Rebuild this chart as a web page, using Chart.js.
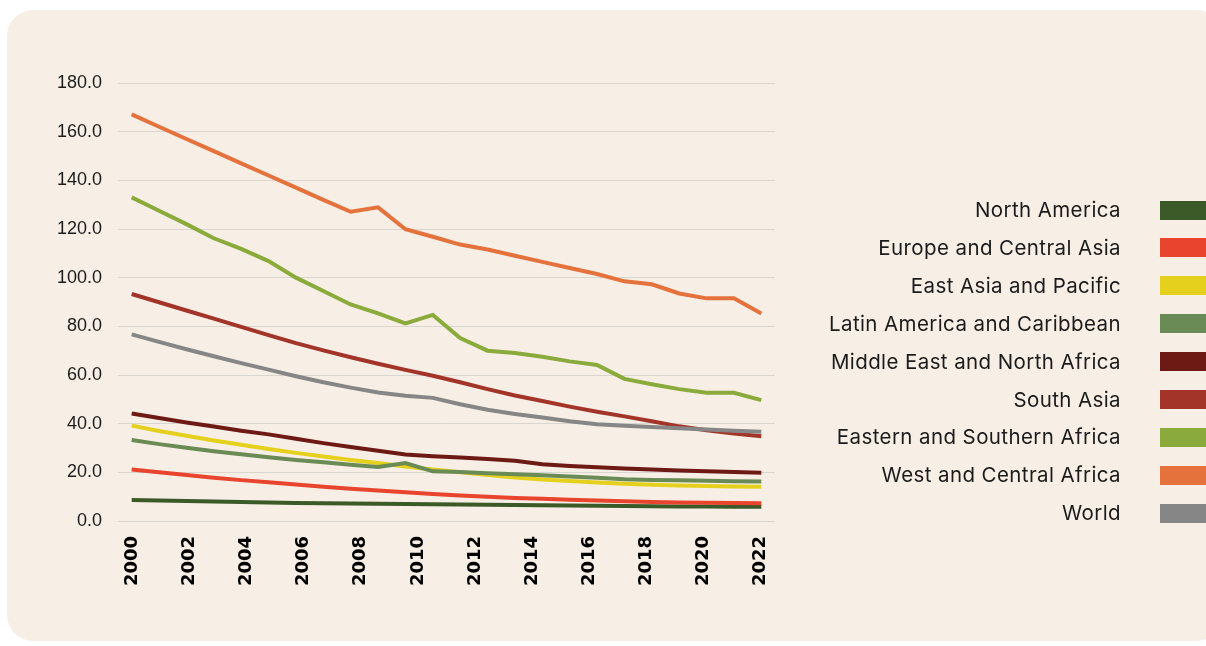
<!DOCTYPE html>
<html>
<head>
<meta charset="utf-8">
<script src="https://cdn.jsdelivr.net/npm/chart.js@4"></script>
<style>
  html, body { margin: 0; padding: 0; background: #ffffff; }
  body { width: 1206px; height: 646px; position: relative; overflow: hidden; }
  #panel {
    position: absolute; left: 7px; top: 10px; width: 1215px; height: 631px;
    background: #f7efe5; border-radius: 26px;
  }
  #chart-wrap { position: absolute; left: 0; top: 0; width: 800px; height: 646px; }
  #legend { position: absolute; left: 0; top: 0; width: 1206px; height: 646px; }
  .legend-row {
    position: absolute; right: 85px; height: 26px; line-height: 26px;
    font-family: Inter, "Noto Sans", sans-serif; font-size: 20.5px; letter-spacing: 0.4px; color: #1b1b1b;
    text-align: right; white-space: nowrap;
  }
  .legend-swatch { position: absolute; left: 1160px; width: 60px; height: 19px; }
</style>
</head>
<body>
<div id="panel"></div>
<div id="chart-wrap"><canvas id="trend-chart"></canvas></div>
<div id="legend"></div>
<script>
// data points (24 per series) and the year labels printed under the axis
const dataYears = [2000, 2001, 2002, 2003, 2004, 2005, 2006, 2007, 2008, 2009, 2010, 2011,
  2012, 2013, 2014, 2015, 2016, 2017, 2018, 2019, 2020, 2021, 2022, 2023];
const axisYears = [2000, 2001, 2002, 2003, 2004, 2005, 2006, 2007, 2008, 2009, 2010, 2011,
  2012, 2013, 2014, 2015, 2016, 2017, 2018, 2019, 2020, 2021, 2022];
const yTicks = [0, 20, 40, 60, 80, 100, 120, 140, 160, 180];

const seriesNames = [
  "North America",
  "Europe and Central Asia",
  "East Asia and Pacific",
  "Latin America and Caribbean",
  "Middle East and North Africa",
  "South Asia",
  "Eastern and Southern Africa",
  "West and Central Africa",
  "World",
];
const seriesColors = ["#3c5a28", "#e8442e", "#e6d01e", "#6a8b55", "#6e1a14", "#a3342a", "#8aaa3b", "#e5723d", "#868686"];

const northAmerica = [8.6, 8.4, 8.2, 8.0, 7.8, 7.6, 7.4, 7.3, 7.2, 7.1, 7.0, 6.9, 6.8, 6.7, 6.6, 6.5, 6.4, 6.3, 6.2, 6.1, 6.0, 6.0, 5.9, 5.9];
const europeCentralAsia = [21.2, 20.0, 18.9, 17.8, 16.8, 15.9, 15.0, 14.1, 13.3, 12.5, 11.8, 11.1, 10.5, 10.0, 9.5, 9.1, 8.7, 8.4, 8.1, 7.8, 7.6, 7.5, 7.4, 7.3];
const eastAsiaPacific = [39.2, 37.0, 35.0, 33.1, 31.3, 29.6, 28.0, 26.5, 25.1, 23.8, 22.4, 21.2, 20.0, 18.9, 17.9, 17.1, 16.4, 15.8, 15.3, 14.9, 14.6, 14.4, 14.2, 14.1];
const latinAmerica = [33.3, 31.6, 30.1, 28.7, 27.4, 26.2, 25.1, 24.1, 23.1, 22.2, 23.8, 20.4, 20.1, 19.6, 19.2, 18.8, 18.3, 17.8, 17.2, 16.9, 16.7, 16.5, 16.3, 16.2];
const middleEastNorthAfrica = [44.2, 42.3, 40.5, 38.8, 37.1, 35.6, 33.8, 32.0, 30.4, 28.9, 27.3, 26.6, 26.1, 25.5, 24.8, 23.3, 22.6, 22.1, 21.6, 21.2, 20.8, 20.4, 20.1, 19.8];
const southAsia = [93.3, 89.9, 86.5, 83.2, 79.8, 76.4, 73.1, 70.1, 67.3, 64.6, 62.1, 59.7, 57.0, 54.2, 51.6, 49.3, 47.0, 44.9, 43.0, 41.0, 38.9, 37.3, 36.0, 34.8];
const easternSouthernAfrica = [133.0, 127.5, 122.0, 116.2, 111.8, 106.8, 100.0, 94.5, 89.0, 85.3, 81.2, 84.7, 75.2, 70.0, 69.0, 67.5, 65.6, 64.1, 58.4, 56.2, 54.2, 52.7, 52.7, 49.7];
const westCentralAfrica = [167.1, 162.0, 157.0, 152.0, 147.0, 142.0, 137.0, 132.0, 127.1, 128.9, 119.9, 116.8, 113.6, 111.6, 109.0, 106.5, 104.0, 101.5, 98.5, 97.3, 93.5, 91.5, 91.5, 85.3];
const world = [76.7, 73.6, 70.6, 67.7, 64.9, 62.2, 59.5, 57.0, 54.8, 52.8, 51.5, 50.6, 48.0, 45.7, 44.0, 42.5, 41.0, 39.8, 39.1, 38.6, 38.1, 37.6, 37.1, 36.7];

const seriesValues = [northAmerica, europeCentralAsia, eastAsiaPacific, latinAmerica,
  middleEastNorthAfrica, southAsia, easternSouthernAfrica, westCentralAfrica, world];

function buildLegend() {
  const legendEl = document.getElementById("legend");
  seriesNames.forEach((name, i) => {
    const cy = 210 + i * 37.9;
    const row = document.createElement("div");
    row.className = "legend-row";
    row.style.top = (cy - 13) + "px";
    row.textContent = name;
    legendEl.appendChild(row);
    const sw = document.createElement("div");
    sw.className = "legend-swatch";
    sw.style.top = (cy - 9.5) + "px";
    sw.style.background = seriesColors[i];
    legendEl.appendChild(sw);
  });
}

const datasets = seriesNames.map((name, i) => ({
  label: name,
  data: seriesValues[i],
  borderColor: seriesColors[i],
  backgroundColor: seriesColors[i],
  borderWidth: 4,
  pointRadius: 0,
  tension: 0,
  fill: false,
  xAxisID: "x",
  order: seriesNames.length - i,
}));

const ctx = document.getElementById("trend-chart");
new Chart(ctx, {
  type: "line",
  data: { labels: dataYears, datasets },
  options: {
    responsive: true,
    maintainAspectRatio: false,
    animation: false,
    layout: { padding: { left: 0, top: 83, right: 25, bottom: 0 } },
    plugins: { legend: { display: false }, tooltip: { enabled: false } },
    scales: {
      x: {
        type: "category",
        labels: dataYears,
        offset: true,
        display: false,
      },
      x2: {
        type: "category",
        labels: axisYears,
        position: "bottom",
        offset: true,
        grid: { display: false, drawTicks: false },
        border: { display: false },
        afterFit: (scale) => { scale.height = 125; },
        ticks: {
          autoSkip: false,
          minRotation: 90,
          maxRotation: 90,
          padding: 15,
          color: "#000000",
          font: { family: "'DejaVu Sans', sans-serif", size: 18, weight: "bold" },
          callback: (val, idx) => (axisYears[idx] % 2 === 0 ? String(axisYears[idx]) : ""),
        },
      },
      y: {
        min: 0,
        max: 180,
        afterBuildTicks: (scale) => { scale.ticks = yTicks.map((v) => ({ value: v })); },
        afterFit: (scale) => { scale.width = 118; },
        grid: { color: "#d9d5d0", lineWidth: 1, drawTicks: false },
        border: { display: false },
        ticks: {
          padding: 16,
          color: "#1b1b1b",
          font: { family: "'Liberation Sans', Arial, sans-serif", size: 18 },
          callback: (v) => Number(v).toFixed(1),
        },
      },
    },
  },
});

buildLegend();
</script>
</body>
</html>
